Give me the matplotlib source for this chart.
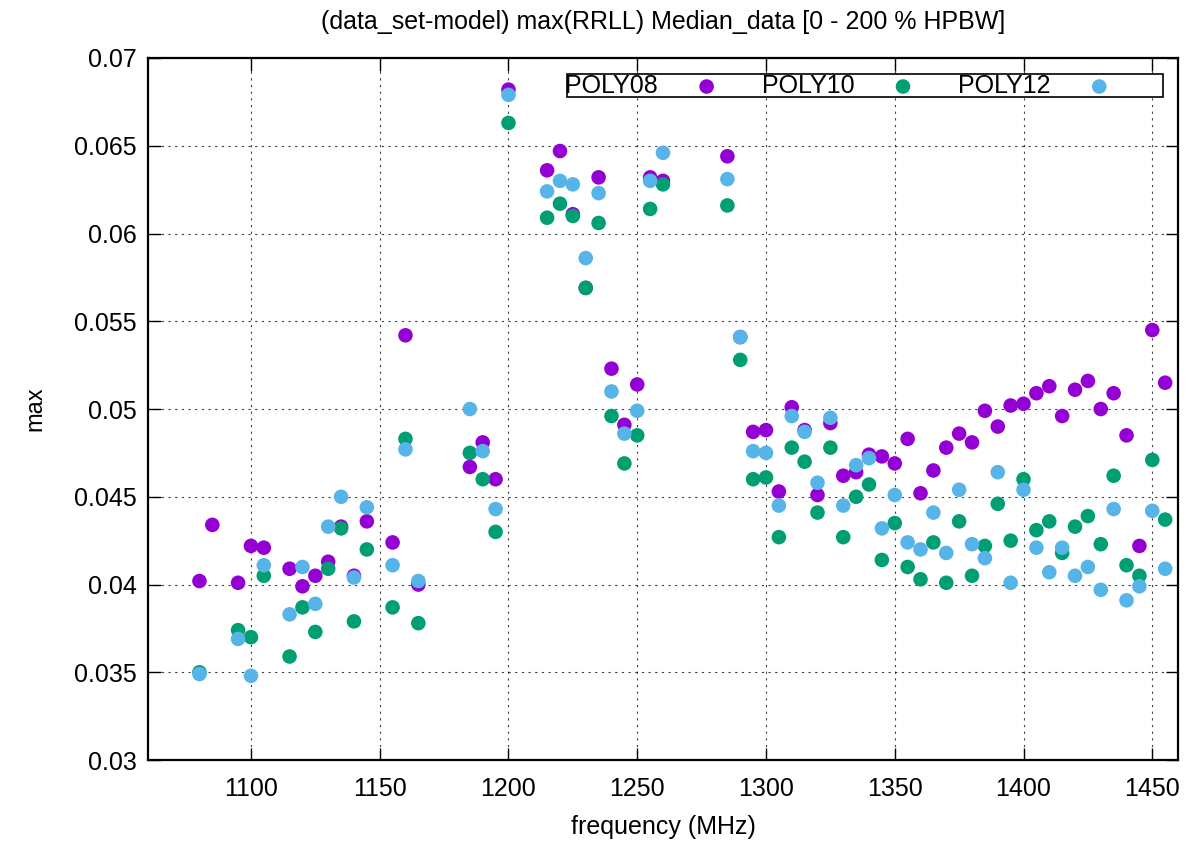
"""
Median max(RRLL) residual (data_set - model) vs frequency for three
polynomial fit orders, gnuplot-like look.
"""
import matplotlib
matplotlib.use("Agg")
import matplotlib.pyplot as plt
from matplotlib.patches import Rectangle

plt.rcParams["font.family"] = ["Liberation Sans", "DejaVu Sans"]

freq = [1080, 1085, 1095, 1100, 1105, 1115, 1120, 1125, 1130, 1135, 1140, 1145,
        1155, 1160, 1165, 1185, 1190, 1195, 1200, 1215, 1220, 1225, 1230, 1235,
        1240, 1245, 1250, 1255, 1260, 1285, 1290, 1295, 1300, 1305, 1310, 1315,
        1320, 1325, 1330, 1335, 1340, 1345, 1350, 1355, 1360, 1365, 1370, 1375,
        1380, 1385, 1390, 1395, 1400, 1405, 1410, 1415, 1420, 1425, 1430, 1435,
        1440, 1445, 1450, 1455]

poly08 = [0.0402, 0.0434, 0.0401, 0.0422, 0.0421, 0.0409, 0.0399, 0.0405, 0.0413, 0.0433, 0.0405, 0.0436,
          0.0424, 0.0542, 0.0400, 0.0467, 0.0481, 0.0460, 0.0682, 0.0636, 0.0647, 0.0611, 0.0569, 0.0632,
          0.0523, 0.0491, 0.0514, 0.0632, 0.0630, 0.0644, 0.0541, 0.0487, 0.0488, 0.0453, 0.0501, 0.0488,
          0.0451, 0.0492, 0.0462, 0.0464, 0.0474, 0.0473, 0.0469, 0.0483, 0.0452, 0.0465, 0.0478, 0.0486,
          0.0481, 0.0499, 0.0490, 0.0502, 0.0503, 0.0509, 0.0513, 0.0496, 0.0511, 0.0516, 0.0500, 0.0509,
          0.0485, 0.0422, 0.0545, 0.0515]

poly10 = [0.0350, None, 0.0374, 0.0370, 0.0405, 0.0359, 0.0387, 0.0373, 0.0409, 0.0432, 0.0379, 0.0420,
          0.0387, 0.0483, 0.0378, 0.0475, 0.0460, 0.0430, 0.0663, 0.0609, 0.0617, 0.0610, 0.0569, 0.0606,
          0.0496, 0.0469, 0.0485, 0.0614, 0.0628, 0.0616, 0.0528, 0.0460, 0.0461, 0.0427, 0.0478, 0.0470,
          0.0441, 0.0478, 0.0427, 0.0450, 0.0457, 0.0414, 0.0435, 0.0410, 0.0403, 0.0424, 0.0401, 0.0436,
          0.0405, 0.0422, 0.0446, 0.0425, 0.0460, 0.0431, 0.0436, 0.0418, 0.0433, 0.0439, 0.0423, 0.0462,
          0.0411, 0.0405, 0.0471, 0.0437]

poly12 = [0.0349, None, 0.0369, 0.0348, 0.0411, 0.0383, 0.0410, 0.0389, 0.0433, 0.0450, 0.0404, 0.0444,
          0.0411, 0.0477, 0.0402, 0.0500, 0.0476, 0.0443, 0.0679, 0.0624, 0.0630, 0.0628, 0.0586, 0.0623,
          0.0510, 0.0486, 0.0499, 0.0630, 0.0646, 0.0631, 0.0541, 0.0476, 0.0475, 0.0445, 0.0496, 0.0487,
          0.0458, 0.0495, 0.0445, 0.0468, 0.0472, 0.0432, 0.0451, 0.0424, 0.0420, 0.0441, 0.0418, 0.0454,
          0.0423, 0.0415, 0.0464, 0.0401, 0.0454, 0.0421, 0.0407, 0.0421, 0.0405, 0.0410, 0.0397, 0.0443,
          0.0391, 0.0399, 0.0442, 0.0409]

SERIES = [("POLY08", poly08, "#9400D3"),
          ("POLY10", poly10, "#009E73"),
          ("POLY12", poly12, "#56B4E9")]


def main():
    fig = plt.figure(figsize=(11.95, 8.43), dpi=100)
    ax = fig.add_axes([0.1238, 0.0984, 0.862, 0.8328])

    for name, vals, col in SERIES:
        xs = [f for f, v in zip(freq, vals) if v is not None]
        ys = [v for v in vals if v is not None]
        ax.scatter(xs, ys, s=110, color=col, edgecolors="none", label=name, zorder=3)

    ax.set_xlim(1060, 1460)
    ax.set_ylim(0.03, 0.07)
    ax.set_xticks(range(1100, 1451, 50))
    ax.set_yticks([0.03, 0.035, 0.04, 0.045, 0.05, 0.055, 0.06, 0.065, 0.07])
    ax.set_yticklabels(["0.03", "0.035", "0.04", "0.045", "0.05", "0.055", "0.06", "0.065", "0.07"])
    ax.tick_params(direction="in", length=9, width=1.0, top=True, right=True,
                   labelsize=18, pad=8)
    ax.tick_params(axis="x", pad=12)
    for sp in ax.spines.values():
        sp.set_linewidth(1.6)
    ax.grid(True, color="black", linestyle=(0, (2, 4)), linewidth=0.8, alpha=0.75)

    ax.set_xlabel("frequency (MHz)", fontsize=18, labelpad=10)
    ax.set_ylabel("max", fontsize=17, labelpad=20)
    ax.set_title("(data_set-model) max(RRLL) Median_data [0 - 200 % HPBW]",
                 fontsize=18, pad=21)

    # gnuplot-style key: label then marker, inside a thin box
    leg = ax.legend(loc="center left", bbox_to_anchor=(0.405, 0.960), ncol=3,
                    markerfirst=False, fontsize=18, frameon=False, borderpad=0.0,
                    handletextpad=1.45, columnspacing=1.7, borderaxespad=0,
                    handlelength=1.0, scatterpoints=1)
    ax.add_patch(Rectangle((0.407, 0.944), 0.578, 0.033, transform=ax.transAxes,
                           fill=True, facecolor="white", edgecolor="black",
                           linewidth=1.2, zorder=4))
    leg.set_zorder(5)

    fig.savefig("out.png", dpi=100)
    plt.close(fig)


if __name__ == "__main__":
    main()
